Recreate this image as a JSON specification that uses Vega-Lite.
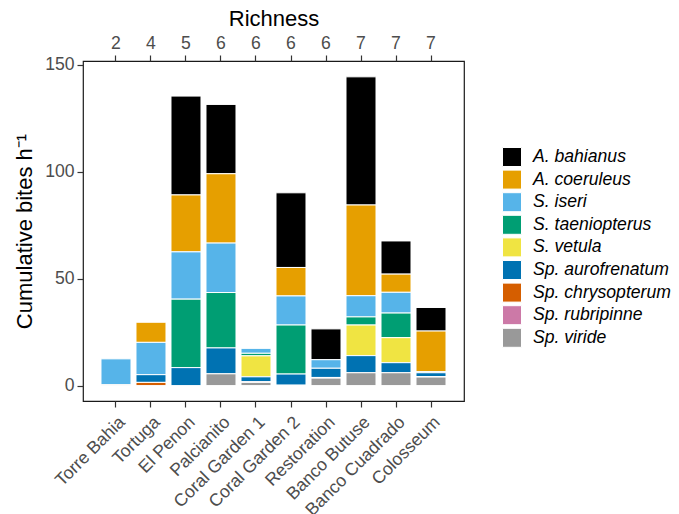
{
  "$schema": "https://vega.github.io/schema/vega-lite/v6.json",
  "autosize": {"type": "none"},
  "width": 381,
  "height": 340,
  "padding": {"left": 83, "top": 61, "right": 215, "bottom": 113},
  "background": "white",
  "config": {
    "font": "Liberation Sans",
    "view": {"stroke": "#1a1a1a", "strokeWidth": 1.2},
    "axis": {
      "domain": false,
      "grid": false,
      "tickColor": "#333333",
      "tickSize": 6,
      "tickWidth": 1.2,
      "labelColor": "#4D4D4D",
      "labelFontSize": 17.6,
      "labelPadding": 3,
      "titleColor": "#000000",
      "titleFontSize": 22,
      "titleFontWeight": "normal"
    }
  },
  "data": {
    "values": [
      {"site": "Torre Bahia", "species": "S. iseri", "bites": 12.1},
      {"site": "Torre Bahia", "species": "Sp. viride", "bites": 0.4},
      {"site": "Tortuga", "species": "A. coeruleus", "bites": 9.4},
      {"site": "Tortuga", "species": "S. iseri", "bites": 15.1},
      {"site": "Tortuga", "species": "Sp. aurofrenatum", "bites": 3.6},
      {"site": "Tortuga", "species": "Sp. chrysopterum", "bites": 1.5},
      {"site": "El Penon", "species": "A. bahianus", "bites": 46.2},
      {"site": "El Penon", "species": "A. coeruleus", "bites": 26.6},
      {"site": "El Penon", "species": "S. iseri", "bites": 22.1},
      {"site": "El Penon", "species": "S. taeniopterus", "bites": 32.0},
      {"site": "El Penon", "species": "Sp. aurofrenatum", "bites": 8.4},
      {"site": "Palcianito", "species": "A. bahianus", "bites": 32.4},
      {"site": "Palcianito", "species": "A. coeruleus", "bites": 32.4},
      {"site": "Palcianito", "species": "S. iseri", "bites": 23.1},
      {"site": "Palcianito", "species": "S. taeniopterus", "bites": 25.9},
      {"site": "Palcianito", "species": "Sp. aurofrenatum", "bites": 12.1},
      {"site": "Palcianito", "species": "Sp. viride", "bites": 5.5},
      {"site": "Coral Garden 1", "species": "S. iseri", "bites": 2.3},
      {"site": "Coral Garden 1", "species": "S. taeniopterus", "bites": 1.2},
      {"site": "Coral Garden 1", "species": "S. vetula", "bites": 9.8},
      {"site": "Coral Garden 1", "species": "Sp. aurofrenatum", "bites": 2.3},
      {"site": "Coral Garden 1", "species": "Sp. rubripinne", "bites": 0.3},
      {"site": "Coral Garden 1", "species": "Sp. viride", "bites": 1.5},
      {"site": "Coral Garden 2", "species": "A. bahianus", "bites": 34.9},
      {"site": "Coral Garden 2", "species": "A. coeruleus", "bites": 13.3},
      {"site": "Coral Garden 2", "species": "S. iseri", "bites": 13.6},
      {"site": "Coral Garden 2", "species": "S. taeniopterus", "bites": 22.9},
      {"site": "Coral Garden 2", "species": "Sp. aurofrenatum", "bites": 5.2},
      {"site": "Coral Garden 2", "species": "Sp. viride", "bites": 0.2},
      {"site": "Restoration", "species": "A. bahianus", "bites": 14.4},
      {"site": "Restoration", "species": "S. iseri", "bites": 4.0},
      {"site": "Restoration", "species": "Sp. aurofrenatum", "bites": 4.3},
      {"site": "Restoration", "species": "Sp. rubripinne", "bites": 0.3},
      {"site": "Restoration", "species": "Sp. viride", "bites": 3.5},
      {"site": "Banco Butuse", "species": "A. bahianus", "bites": 59.9},
      {"site": "Banco Butuse", "species": "A. coeruleus", "bites": 42.4},
      {"site": "Banco Butuse", "species": "S. iseri", "bites": 9.9},
      {"site": "Banco Butuse", "species": "S. taeniopterus", "bites": 3.8},
      {"site": "Banco Butuse", "species": "S. vetula", "bites": 14.3},
      {"site": "Banco Butuse", "species": "Sp. aurofrenatum", "bites": 8.0},
      {"site": "Banco Butuse", "species": "Sp. viride", "bites": 6.0},
      {"site": "Banco Cuadrado", "species": "A. bahianus", "bites": 15.5},
      {"site": "Banco Cuadrado", "species": "A. coeruleus", "bites": 8.5},
      {"site": "Banco Cuadrado", "species": "S. iseri", "bites": 9.7},
      {"site": "Banco Cuadrado", "species": "S. taeniopterus", "bites": 11.5},
      {"site": "Banco Cuadrado", "species": "S. vetula", "bites": 11.7},
      {"site": "Banco Cuadrado", "species": "Sp. aurofrenatum", "bites": 4.7},
      {"site": "Banco Cuadrado", "species": "Sp. viride", "bites": 6.0},
      {"site": "Colosseum", "species": "A. bahianus", "bites": 11.0},
      {"site": "Colosseum", "species": "A. coeruleus", "bites": 19.0},
      {"site": "Colosseum", "species": "S. iseri", "bites": 0.3},
      {"site": "Colosseum", "species": "S. taeniopterus", "bites": 0.2},
      {"site": "Colosseum", "species": "Sp. aurofrenatum", "bites": 1.8},
      {"site": "Colosseum", "species": "Sp. chrysopterum", "bites": 0.2},
      {"site": "Colosseum", "species": "Sp. viride", "bites": 4.0}
    ]
  },
  "resolve": {"axis": {"x": "independent"}},
  "layer": [
    {
      "mark": {"type": "bar", "stroke": "white", "strokeWidth": 1},
      "encoding": {
        "x": {
          "field": "site",
          "type": "nominal",
          "sort": ["Torre Bahia", "Tortuga", "El Penon", "Palcianito", "Coral Garden 1", "Coral Garden 2", "Restoration", "Banco Butuse", "Banco Cuadrado", "Colosseum"],
          "scale": {"paddingInner": 0.143, "paddingOuter": 0.514},
          "axis": {"orient": "bottom", "title": null, "labelAngle": -45, "labelAlign": "right", "labelBaseline": "top", "labelPadding": 6}
        },
        "y": {
          "field": "bites",
          "type": "quantitative",
          "stack": "zero",
          "scale": {"domain": [-7.2, 151.7], "nice": false, "zero": false},
          "axis": {"values": [0, 50, 100, 150], "title": "Cumulative bites h⁻¹", "titlePadding": 8}
        },
        "color": {
          "field": "species",
          "type": "nominal",
          "scale": {
            "domain": ["A. bahianus", "A. coeruleus", "S. iseri", "S. taeniopterus", "S. vetula", "Sp. aurofrenatum", "Sp. chrysopterum", "Sp. rubripinne", "Sp. viride"],
            "range": ["#000000", "#E69F00", "#56B4E9", "#009E73", "#F0E442", "#0072B2", "#D55E00", "#CC79A7", "#999999"]
          },
          "legend": {
            "title": null,
            "orient": "none",
            "legendX": 419,
            "legendY": 86,
            "padding": 0,
            "symbolType": "square",
            "symbolSize": 361,
            "symbolStrokeColor": "white",
            "symbolStrokeWidth": 1,
            "symbolOpacity": 1,
            "labelFontSize": 17.6,
            "labelFontStyle": "italic",
            "labelColor": "#000000",
            "labelOffset": 11,
            "rowPadding": -1.4
          }
        },
        "order": {"field": "species", "sort": "descending"}
      }
    },
    {
      "mark": {"type": "tick", "opacity": 0},
      "encoding": {
        "x": {
          "field": "site",
          "type": "nominal",
          "sort": ["Torre Bahia", "Tortuga", "El Penon", "Palcianito", "Coral Garden 1", "Coral Garden 2", "Restoration", "Banco Butuse", "Banco Cuadrado", "Colosseum"],
          "axis": {
            "orient": "top",
            "title": "Richness",
            "titlePadding": 4,
            "labelAngle": 0,
            "labelExpr": "['2','4','5','6','6','6','6','7','7','7'][indexof(['Torre Bahia','Tortuga','El Penon','Palcianito','Coral Garden 1','Coral Garden 2','Restoration','Banco Butuse','Banco Cuadrado','Colosseum'], datum.value)]"
          }
        }
      }
    }
  ]
}
